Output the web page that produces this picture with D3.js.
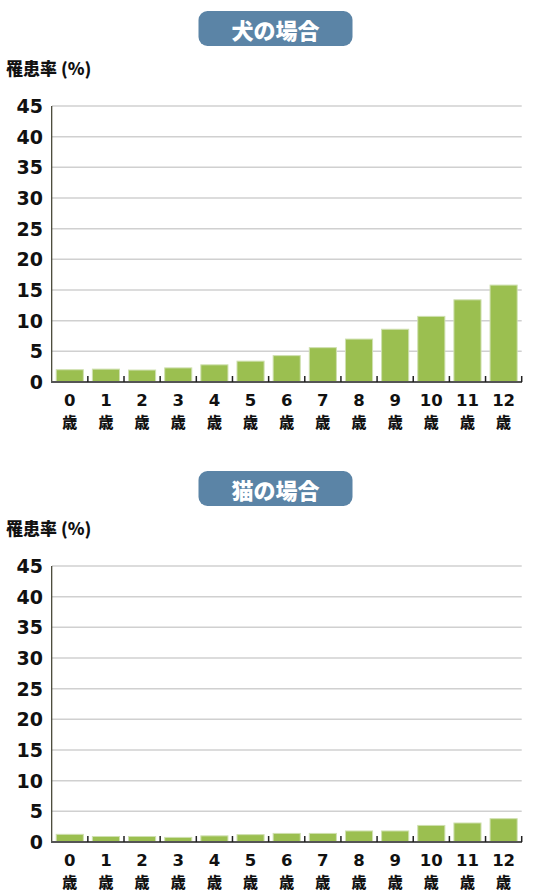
<!DOCTYPE html>
<html>
<head>
<meta charset="utf-8">
<script src="https://cdn.jsdelivr.net/npm/d3@7"></script>
<style>
html,body{margin:0;padding:0;background:#fff;}
svg{display:block;}
</style>
</head>
<body>
<svg id="chart" width="540" height="895"></svg>
<script>
const categories = ["0","1","2","3","4","5","6","7","8","9","10","11","12"];
const dogValues = [2.0, 2.1, 1.95, 2.3, 2.8, 3.4, 4.3, 5.6, 7.0, 8.6, 10.7, 13.4, 15.8];
const catValues = [1.25, 0.9, 0.9, 0.75, 1.0, 1.2, 1.4, 1.4, 1.8, 1.8, 2.7, 3.1, 3.8];
const yTicks = [0, 5, 10, 15, 20, 25, 30, 35, 40, 45];
const titles = ["犬の場合", "猫の場合"];
const yLabel = "罹患率 (%)";
const unit = "歳";

const svg = d3.select("#chart");
const numFont = "'DejaVu Sans', Verdana, sans-serif";
const cjkFont = "'Noto Sans CJK JP', 'Noto Sans', sans-serif";

function drawPanel(offsetY, title, values) {
  const g = svg.append("g").attr("transform", `translate(0,${offsetY})`);
  const x = d3.scaleBand().domain(categories).range([51.7, 521.7]).paddingInner(0.25).paddingOuter(0.125);
  const y = d3.scaleLinear().domain([0, 45]).range([382, 106]);

  // title badge
  g.append("rect").attr("x", 198.5).attr("y", 11).attr("width", 154).attr("height", 35)
    .attr("rx", 9).attr("fill", "#5b84a6");
  g.append("text").attr("x", 275.5).attr("y", 29).attr("text-anchor", "middle")
    .attr("dominant-baseline", "central").attr("fill", "#fff")
    .attr("font-family", cjkFont).attr("font-weight", "900").attr("font-size", 22)
    .text(title);

  // y label
  g.append("text").attr("x", 6).attr("y", 67).attr("dominant-baseline", "central")
    .attr("font-family", cjkFont).attr("font-weight", "900").attr("font-size", 17)
    .attr("fill", "#111").text(yLabel);

  // gridlines
  g.selectAll("line.grid").data(yTicks.filter(d => d > 0)).enter().append("line")
    .attr("x1", 52).attr("x2", 521.7)
    .attr("y1", d => y(d)).attr("y2", d => y(d))
    .attr("stroke", "#d0d0d0").attr("stroke-width", 1.5);

  // y tick labels
  g.selectAll("text.yt").data(yTicks).enter().append("text")
    .attr("x", 43).attr("y", d => y(d)).attr("text-anchor", "end")
    .attr("dominant-baseline", "central")
    .attr("font-family", numFont).attr("font-weight", "bold").attr("font-size", 19)
    .attr("fill", "#111").text(d => d);

  // bars
  g.selectAll("rect.bar").data(values).enter().append("rect")
    .attr("x", (d, i) => x(categories[i]))
    .attr("width", x.bandwidth())
    .attr("y", d => y(d))
    .attr("height", d => y(0) - y(d))
    .attr("fill", "#9bbf50")
    .attr("stroke", "#cfe0b0").attr("stroke-width", 1);

  // y axis line
  g.append("line").attr("x1", 51.7).attr("x2", 51.7).attr("y1", 106).attr("y2", 382)
    .attr("stroke", "#3a3a2a").attr("stroke-width", 1.2);

  // baseline
  g.append("line").attr("x1", 51).attr("x2", 522).attr("y1", 382).attr("y2", 382)
    .attr("stroke", "#555").attr("stroke-width", 2);

  // ticks at band boundaries
  const step = x.step();
  const bounds = categories.map((c, i) => 51.7 + step * (i + 1));
  g.selectAll("line.tk").data(bounds).enter().append("line")
    .attr("x1", d => d).attr("x2", d => d).attr("y1", 376).attr("y2", 382)
    .attr("stroke", "#222").attr("stroke-width", 1.5);

  // x labels: number line and unit line
  g.selectAll("text.xn").data(categories).enter().append("text")
    .attr("x", c => x(c) + x.bandwidth() / 2).attr("y", 405.5)
    .attr("text-anchor", "middle").attr("fill", "#111")
    .attr("font-family", numFont).attr("font-weight", "bold").attr("font-size", 16.5)
    .text(c => c);
  g.selectAll("text.xu").data(categories).enter().append("text")
    .attr("x", c => x(c) + x.bandwidth() / 2).attr("y", 427.5)
    .attr("text-anchor", "middle").attr("fill", "#111")
    .attr("font-family", cjkFont).attr("font-weight", "900").attr("font-size", 15)
    .text(unit);
}

drawPanel(0, titles[0], dogValues);
drawPanel(460, titles[1], catValues);
</script>
</body>
</html>
